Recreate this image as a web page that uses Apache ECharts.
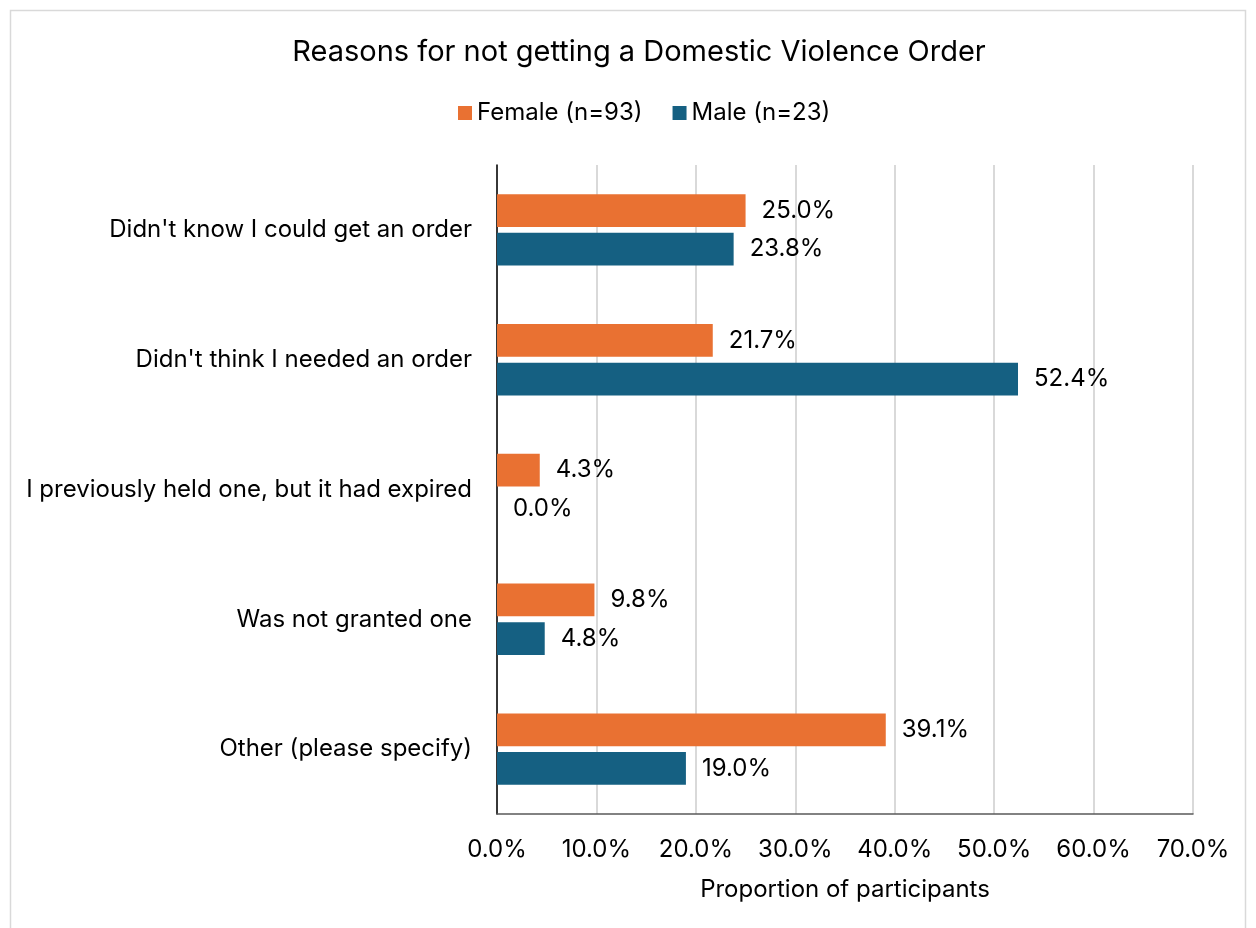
<!DOCTYPE html>
<html><head><meta charset="utf-8">
<script src="https://cdn.jsdelivr.net/npm/echarts@6/dist/echarts.min.js"></script>
<style>html,body{margin:0;padding:0;background:#fff;}#c{width:1256px;height:928px;}</style>
</head><body><div id="c"></div>
<script>
const categories = ["Didn't know I could get an order","Didn't think I needed an order","I previously held one, but it had expired","Was not granted one","Other (please specify)"];
const female = [25.0, 21.7, 4.3, 9.8, 39.1];
const male = [23.8, 52.4, 0.0, 4.8, 19.0];
const seriesNames = ["Female (n=93)", "Male (n=23)"];
const xTicks = {min: 0, max: 70, interval: 10};
const FONT = 'Inter, "Open Sans", sans-serif';
const chart = echarts.init(document.getElementById('c'), null, {renderer:'canvas'});
chart.setOption({
  backgroundColor: '#fff',
  animation: false,
  graphic: [{type:'rect', shape:{x:10.5,y:10.5,width:1235,height:930}, style:{fill:'none', stroke:'#d9d9d9', lineWidth:1.5}, silent:true}],
  title: {text:'Reasons for not getting a Domestic Violence Order', left:634, textAlign:'center', top:33,
    textStyle:{fontFamily:FONT, fontSize:29, fontWeight:'normal', color:'#000'}},
  legend: {top:96, left:453, itemWidth:14, itemHeight:14, itemGap:30, icon:'rect',
    textStyle:{fontFamily:FONT, fontSize:24, color:'#000'}, data: seriesNames},
  grid: {left:497, right:63, top:165, bottom:114, containLabel:false},
  xAxis: {type:'value', min:xTicks.min, max:xTicks.max, interval:xTicks.interval,
    name:'Proportion of participants', nameLocation:'middle', nameGap:64,
    nameTextStyle:{fontFamily:FONT, fontSize:24, color:'#000'},
    axisLabel:{formatter: v => v.toFixed(1)+'%', fontFamily:FONT, fontSize:24, color:'#000', margin:24},
    axisLine:{show:true, lineStyle:{color:'#595959', width:1.5}},
    axisTick:{show:false},
    splitLine:{show:true, lineStyle:{color:'#d9d9d9', width:2}}},
  yAxis: {type:'category', data:categories, inverse:true,
    axisLabel:{fontFamily:FONT, fontSize:24, color:'#000', margin:25},
    axisLine:{show:true, lineStyle:{color:'#000', width:1.5}},
    axisTick:{show:false}},
  series: [
    {name:seriesNames[0], type:'bar', data:female, itemStyle:{color:'#E97132'}, barGap:'18%', barCategoryGap:'45%',
      label:{show:true, position:'right', distance:16, formatter: p => p.value.toFixed(1)+'%', fontFamily:FONT, fontSize:24, color:'#000'}},
    {name:seriesNames[1], type:'bar', data:male, itemStyle:{color:'#156082'}, barGap:'18%', barCategoryGap:'45%',
      label:{show:true, position:'right', distance:16, formatter: p => p.value.toFixed(1)+'%', fontFamily:FONT, fontSize:24, color:'#000'}}
  ]
});
</script></body></html>
